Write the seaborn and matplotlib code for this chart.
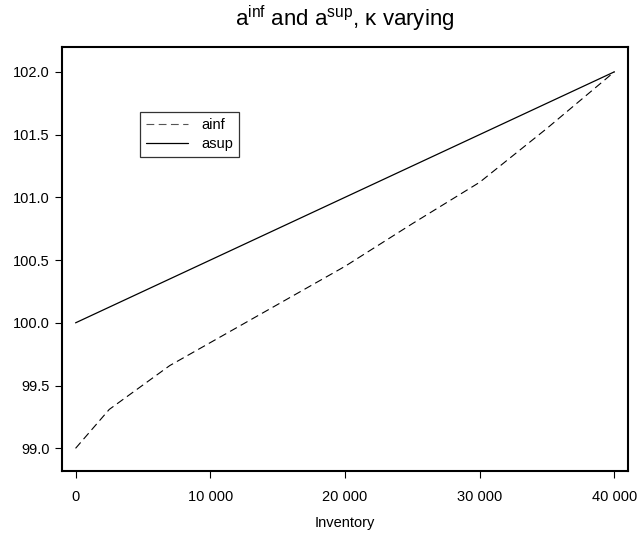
import pandas as pd
import matplotlib
matplotlib.use("Agg")
import matplotlib.pyplot as plt
import seaborn as sns

# values
inventory_inf = [0, 2500, 7000, 20000, 25000, 30000, 35000, 40000]
ainf = [99.0, 99.31, 99.66, 100.45, 100.79, 101.12, 101.55, 102.0]
inventory_sup = [0, 10000, 20000, 30000, 40000]
asup = [100.0, 100.5, 101.0, 101.5, 102.0]
x_ticks = [0, 10000, 20000, 30000, 40000]
x_ticklabels = ["0", "10 000", "20 000", "30 000", "40 000"]
y_ticks = [99.0, 99.5, 100.0, 100.5, 101.0, 101.5, 102.0]

sns.set_theme(style="ticks")
plt.rcParams["font.family"] = ["Liberation Sans", "DejaVu Sans"]
plt.rcParams["mathtext.default"] = "regular"
plt.rcParams["text.color"] = "black"

df_inf = pd.DataFrame({"Inventory": inventory_inf, "value": ainf})
df_sup = pd.DataFrame({"Inventory": inventory_sup, "value": asup})

fig = plt.figure(figsize=(6.4, 5.37), dpi=100)
ax = fig.add_axes([0.097, 0.123, 0.884, 0.79])

sns.lineplot(data=df_inf, x="Inventory", y="value", ax=ax, color="black",
             lw=0.8, linestyle=(0, (7, 4)), label="ainf")
sns.lineplot(data=df_sup, x="Inventory", y="value", ax=ax, color="black",
             lw=0.9, label="asup")

ax.set_xlim(-1000, 41000)
ax.set_ylim(98.82, 102.2)
ax.set_xticks(x_ticks)
ax.set_xticklabels(x_ticklabels)
ax.set_yticks(y_ticks)
ax.set_yticklabels([f"{v:.1f}" for v in y_ticks])
ax.tick_params(axis="both", direction="out", length=5, width=0.8,
               labelsize=10.5, colors="black", pad=4)
ax.tick_params(axis="x", pad=9)
for s in ax.spines.values():
    s.set_visible(True)
    s.set_linewidth(1.5)
    s.set_color("black")

ax.set_xlabel("Inventory", fontsize=10.5, labelpad=8, color="black")
ax.set_ylabel("")
ax.set_title(r"a$^{inf}$ and a$^{sup}$, κ varying", fontsize=16, pad=15,
             color="black")

leg = ax.legend(loc="upper left", bbox_to_anchor=(0.138, 0.845), frameon=True,
                fancybox=False, edgecolor="black", fontsize=10.5,
                handlelength=2.9, borderpad=0.4, labelspacing=0.3,
                handletextpad=0.9, borderaxespad=0)
leg.get_frame().set_linewidth(0.9)
leg.get_lines()[0].set_color("#555555")
for t in leg.get_texts():
    t.set_color("black")

fig.savefig("out.png", dpi=100)
